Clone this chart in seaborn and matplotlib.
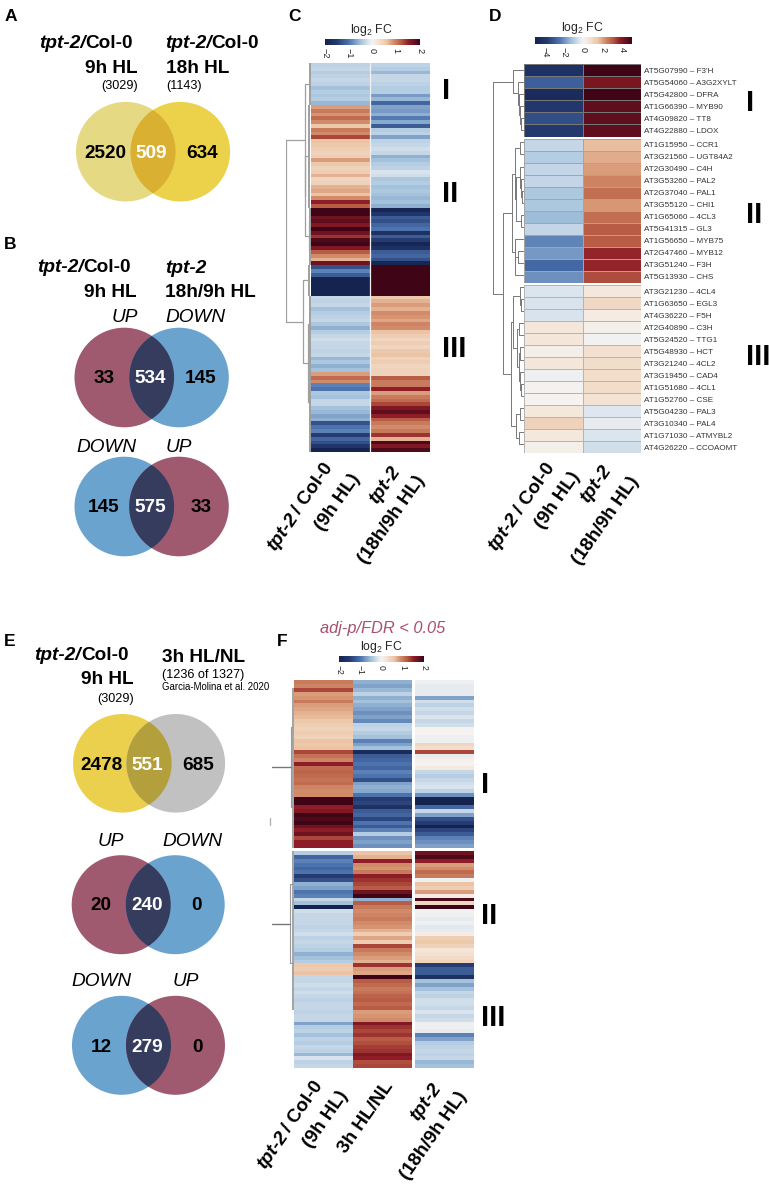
import matplotlib
matplotlib.use("Agg")
import matplotlib.pyplot as plt
import numpy as np
import pandas as pd
import seaborn as sns
from matplotlib.colors import LinearSegmentedColormap
from matplotlib.patches import Circle

# ---------------- data ----------------
venn_a = [2520, 509, 634]
venn_b1 = [33, 534, 145]
venn_b2 = [145, 575, 33]
venn_e1 = [2478, 551, 685]
venn_e2 = [20, 240, 0]
venn_e3 = [12, 279, 0]

c_9h = [-0.35,-0.3,-0.4,-0.35,-0.3,-0.35,-0.5,-0.4,-0.45,-0.4,-0.55,
        0.8,1.0,0.85,1.1,0.9,0.55,1.0,0.9,1.3,
        0.6,0.55,0.5,0.45,0.5,0.8,0.55,0.45,0.5,0.7,0.4,0.45,0.7,0.75,0.6,
        0.9,1.5,1.2,
        2,2,1.7,1.8,1.6,2,1.7,1.4,1.9,2,1.6,1.2,0.9,0.7,1.7,
        -1.3,-0.9,-1.2,
        -2,-2,-2,-2,-2,
        -0.3,-0.35,-0.3,-0.5,-0.4,-0.35,-0.3,-0.45,-0.6,-0.4,-0.3,-0.25,-0.3,-0.3,-0.35,-0.3,-0.55,-0.45,-0.6,-0.5,
        0.8,1.1,0.9,
        -0.9,-1.0,-0.45,-0.5,-0.3,-0.3,-0.5,-0.55,-0.7,-0.6,
        -1.3,-1.0,-0.9,-1.5,-1.1,-1.3,-1.6,-2]
c_18h = [-0.35,-0.4,-0.55,-0.3,-0.3,-0.35,-0.4,-0.4,-0.75,-0.55,-1.1,
         -0.7,-0.75,-0.6,-0.95,-0.65,-1.2,-0.4,-0.35,-0.7,
         -0.35,-0.3,-0.25,-0.3,-0.6,-0.5,-0.4,-0.35,-0.2,-0.25,-0.45,-0.4,-0.5,-0.45,-0.5,
         -0.55,-0.5,-0.6,
         -1.9,-1.6,-1.2,-1.3,-1.1,-1.0,-1.7,-1.2,-1.5,-1.9,-1.7,-1.2,-1.1,-1.3,-1.9,
         2,2,2,
         2,2,2,2,2,
         0.55,0.7,0.8,0.7,0.9,0.85,0.75,0.95,0.9,0.6,0.5,0.4,0.5,0.4,0.55,0.6,0.45,0.5,0.4,0.45,
         0.45,1.2,1.0,
         1.0,1.5,0.8,1.0,1.1,1.3,1.6,1.8,1.5,1.2,
         1.0,0.9,1.0,1.4,0.7,1.9,1.6,1.9]

d_genes_1 = ["AT5G07990 – F3'H","AT5G54060 – A3G2XYLT","AT5G42800 – DFRA","AT1G66390 – MYB90","AT4G09820 – TT8","AT4G22880 – LDOX"]
d_9h_1 = [-4.2,-2.9,-4.5,-3.9,-3.3,-3.8]
d_18h_1 = [5.0,4.1,5.0,4.5,4.5,4.5]
d_genes_2 = ["AT1G15950 – CCR1","AT3G21560 – UGT84A2","AT2G30490 – C4H","AT3G53260 – PAL2","AT2G37040 – PAL1","AT3G55120 – CHI1",
             "AT1G65060 – 4CL3","AT5G41315 – GL3","AT1G56650 – MYB75","AT2G47460 – MYB12","AT3G51240 – F3H","AT5G13930 – CHS"]
d_9h_2 = [-0.75,-1.0,-0.8,-0.8,-1.1,-1.1,-1.3,-0.8,-2.2,-1.9,-2.7,-2.0]
d_18h_2 = [1.6,1.8,2.0,2.4,2.7,2.1,2.7,3.0,3.0,3.7,3.7,3.2]
d_genes_3 = ["AT3G21230 – 4CL4","AT1G63650 – EGL3","AT4G36220 – F5H","AT2G40890 – C3H","AT5G24520 – TTG1","AT5G48930 – HCT","AT3G21240 – 4CL2",
             "AT3G19450 – CAD4","AT1G51680 – 4CL1","AT1G52760 – CSE","AT5G04230 – PAL3","AT3G10340 – PAL4","AT1G71030 – ATMYBL2","AT4G26220 – CCOAOMT"]
d_9h_3 = [-0.45,-0.5,-0.5,0.5,0.5,0.2,0.5,-0.15,-0.02,0.0,0.4,1.1,0.4,0.15]
d_18h_3 = [0.4,0.9,0.3,0.15,-0.05,0.7,0.8,0.8,0.8,0.6,-0.4,-0.25,-0.45,-0.6]

f1_9h = [1.0,0.95,1.3,0.8,0.85,1.0,0.8,0.75,0.7,0.65,0.55,0.5,0.45,0.5,0.45,0.6,0.55,0.6,1.3,1.05,0.95,1.5,1.1,1.15,1.1,1.05,1.1,0.95,0.9,0.9,2,2,1.5,1.6,2,1.9,2,1.7,1.5,1.7,1.3,1.5,1.5]
f1_3h = [-0.6,-0.7,-0.55,-0.35,-0.6,-0.5,-0.6,-0.7,-0.8,-0.7,-0.85,-0.35,-0.3,-0.4,-0.5,-0.9,-0.7,-0.5,-1.8,-1.2,-1.1,-1.0,-1.1,-0.9,-1.0,-1.3,-0.7,-0.6,-0.65,-1.0,-1.5,-1.4,-1.7,-1.2,-1.1,-1.4,-1.0,-1.2,-0.9,-0.4,-0.8,-0.7,-0.8]
f1_18h = [-0.05,-0.1,-0.1,-0.1,-0.7,-0.25,-0.35,-0.25,-0.3,-0.2,-0.3,-0.25,0.0,0.0,-0.05,-0.05,0.4,0.3,1.3,-0.1,0.05,0.0,0.15,-0.3,-0.4,-0.3,-0.25,-0.2,-0.35,-0.8,-2,-2,-1.1,-0.3,-0.7,-1.3,-1.5,-2,-1.4,-1.2,-0.9,-0.8,-0.7]

f2_9h = [-0.4,-1.1,-0.9,-1.0,-1.1,-1.0,-1.5,-1.3,-0.6,-0.7,-1.0,-0.9,-0.3,-0.5,-2,
         -0.25,-0.3,-0.3,-0.3,-0.35,-0.3,-0.25,-0.35,-0.3,-0.35,-0.4,-0.6,-0.5,-0.4,
         0.55,0.5,0.6,-0.3,-0.3,-0.25,-0.3,-0.25,-0.3,-0.35,-0.3,-0.3,-0.35,-0.3,-0.3,
         -0.7,-0.4,-0.35,-0.5,-0.35,-0.4,-0.3,-0.35,-0.55,-0.2,-0.35,-0.3]
f2_3h = [0.6,0.7,1.5,0.9,0.85,1.0,1.5,1.4,1.3,1.2,1.7,2,-0.6,1.2,1.0,
         0.9,0.95,1.0,0.9,0.85,0.7,0.5,0.75,0.5,1.3,1.0,0.9,0.8,0.7,
         1.4,0.8,0.75,2,1.2,1.1,1.0,1.05,1.15,1.2,1.1,1.2,0.8,0.85,0.9,
         1.6,1.4,1.3,1.4,1.2,1.25,1.35,1.4,1.6,1.5,1.25,1.3]
f2_18h = [1.7,1.9,1.5,0.8,0.9,1.1,1.0,-0.05,0.6,0.5,0.8,0.1,1.9,0.4,2,
          -0.02,-0.05,-0.1,-0.05,-0.15,-0.1,0.1,0.5,0.55,0.45,0.2,0.25,0.35,0.45,
          -1.5,-1.2,-1.2,-1.7,-0.5,-0.7,-0.5,-0.3,-0.35,-0.25,-0.25,-0.3,-0.2,-0.3,-0.25,
          -0.05,-0.05,-0.1,-0.9,-0.7,-0.4,-0.35,-0.3,-0.35,-0.3,-0.55,-0.5]

# dendrogram merges: (height, child, child); a leaf is a row; ('c', first row, last row, height) is a tight cluster
d_tree = (30.7,
          (10.7, 0, (5.7, 1, (4.7, 2, (4, 3, (3, 4, 5))))),
          (20.7,
           (12.2, (9, (4.5, 6, 7), (8, (4, 8, (3, 9, (2.5, 10, 11))), (3.5, 12, 13))),
            (9.5, 14, (8.7, (6, 15, 16), 17))),
           (13, (11, (4, 18, (3, 19, 20)), (7.5, (5, 21, 22), (5.5, (4, 23, 24), (4.5, 25, (3, 26, 27))))),
            (8, (4, 28, 29), (5, 30, 31)))))
c_tree = (24.5,
          (5.5, ('c', 0, 11, 1.0),
           (5.2, ('c', 11, 38, 1.5), (2.0, ('c', 38, 45, 1.0), ('c', 45, 53, 1.0)))),
          (7.2, ('c', 53, 61, 1.2), (2.5, ('c', 61, 76, 1.0), ('c', 76, 102, 1.0))))
f_tree_1 = (3.6, ('c', 2, 22, 1.0), ('c', 22, 43, 1.0))
f_tree_2 = (4.6, ('c', 0, 17, 1.0), ('c', 17, 41, 1.0))

# ---------------- style ----------------
W, H = 769, 1185
sns.set_theme(style="white")
plt.rcParams["font.family"] = ["Liberation Sans", "DejaVu Sans"]
plt.rcParams["mathtext.default"] = "regular"
fig = plt.figure(figsize=(W / 100, H / 100), dpi=100, facecolor="white")

cmap = LinearSegmentedColormap.from_list("fc", [
    (0.00, "#14234f"), (0.12, "#23396f"), (0.25, "#4b72ae"), (0.38, "#a6c4dd"), (0.42, "#c3d5e6"), (0.46, "#dfe7ef"),
    (0.50, "#f5f3f1"), (0.56, "#f4e3d4"), (0.65, "#ecc5a6"), (0.72, "#d48f6c"), (0.80, "#b85c45"),
    (0.88, "#8e1c26"), (1.00, "#3f0517")])


def axpx(x0, y0, x1, y1, **kw):
    return fig.add_axes([x0 / W, 1 - y1 / H, (x1 - x0) / W, (y1 - y0) / H], **kw)


ov = axpx(0, 0, W, H)
ov.set_xlim(0, W)
ov.set_ylim(H, 0)
ov.axis("off")
fig.canvas.draw()
rend = fig.canvas.get_renderer()

BIG = 13.7
RED, BLUE, NAVY = "#a05a70", "#6ba3cf", "#363c5e"


def venn(counts, cl, cr, cy, r, col_l, col_r, col_mid, xs, ty):
    a = Circle((cl, cy), r, fc=col_l, ec="none")
    b = Circle((cr, cy), r, fc=col_r, ec="none")
    m = Circle((cl, cy), r, fc=col_mid, ec="none")
    ov.add_patch(a)
    ov.add_patch(b)
    ov.add_patch(m)
    m.set_clip_path(Circle((cr, cy), r, transform=ov.transData))
    for val, x, col in zip(counts, xs, ["black", "white", "black"]):
        ov.text(x, ty, str(val), ha="center", va="center", fontsize=BIG, fontweight="bold", color=col)


def mixed(x, y, parts, angle=0, align="right", size=BIG, gap=0.0):
    """parts: (text, style, weight). Written end to end along a rotated baseline."""
    t = np.deg2rad(angle)
    ux, uy = np.cos(t), -np.sin(t)
    widths = []
    for s, st, w in parts:
        tt = ov.text(0, 0, s, fontsize=size, style=st, fontweight=w)
        widths.append(tt.get_window_extent(rend).width)
        tt.remove()
    total = sum(widths) + gap * (len(parts) - 1)
    d = -total if align == "right" else 0
    for (s, st, w), wd in zip(parts, widths):
        ov.text(x + ux * d, y + uy * d, s, fontsize=size, style=st, fontweight=w, rotation=angle,
                rotation_mode="anchor", ha="left", va="center", color="black")
        d += wd + gap


def plain(x, y, s, **kw):
    ov.text(x, y, s, **{"va": "baseline", "color": "black", **kw})


def roman(x, y, s):
    ov.text(x, y, s, fontsize=21, fontweight="bold", ha="left", va="baseline", color="black")


for s, x, y in [("A", 5, 21), ("B", 4, 249), ("C", 288, 21), ("D", 489, 21), ("E", 4, 646), ("F", 277, 646)]:
    plain(x, y, s, fontsize=12.5, fontweight="bold")

# A
mixed(133, 43.5, [("tpt-2/", "italic", "bold"), ("Col-0", "normal", "bold")])
mixed(259, 43.5, [("tpt-2/", "italic", "bold"), ("Col-0", "normal", "bold")])
plain(137.7, 73, "9h HL", ha="right", fontsize=BIG, fontweight="bold")
plain(166.5, 73, "18h HL", fontsize=BIG, fontweight="bold")
plain(138, 89, "(3029)", ha="right", fontsize=9.1)
plain(166, 89, "(1143)", fontsize=9.1)
venn(venn_a, 125.8, 180.3, 151.7, 49.8, "#e6d983", "#ecd24a", "#dab032", (105, 151.7, 202), 153)

# B
mixed(131, 267.5, [("tpt-2/", "italic", "bold"), ("Col-0", "normal", "bold")])
plain(165.7, 273, "tpt-2", fontsize=BIG, fontweight="bold", style="italic")
plain(136.7, 297, "9h HL", ha="right", fontsize=BIG, fontweight="bold")
plain(165, 297, "18h/9h HL", fontsize=BIG, fontweight="bold")
plain(137.5, 322.5, "UP", ha="right", fontsize=BIG, style="italic")
plain(165, 322.5, "DOWN", fontsize=BIG, style="italic")
venn(venn_b1, 124.3, 179, 377.5, 49.8, RED, BLUE, NAVY, (104, 150.7, 201), 378.5)
plain(137, 451.5, "DOWN", ha="right", fontsize=BIG, style="italic")
plain(165.7, 451.5, "UP", fontsize=BIG, style="italic")
venn(venn_b2, 124.3, 179, 506.5, 49.8, BLUE, RED, NAVY, (104, 150.7, 201), 508)

# E
mixed(128.7, 655.5, [("tpt-2/", "italic", "bold"), ("Col-0", "normal", "bold")])
plain(134, 684.5, "9h HL", ha="right", fontsize=BIG, fontweight="bold")
plain(134.5, 702, "(3029)", ha="right", fontsize=9.1)
plain(162, 661.5, "3h HL/NL", fontsize=BIG, fontweight="bold")
plain(162, 678, "(1236 of 1327)", fontsize=9.1)
plain(162, 689.5, "Garcia-Molina et al. 2020", fontsize=6.9)
venn(venn_e1, 122.3, 175.8, 763.3, 49.3, "#ebd04e", "#c1c1c1", "#b3a03c", (101.7, 147.3, 197.7), 765)
plain(123.5, 845.5, "UP", ha="right", fontsize=BIG, style="italic")
plain(162.3, 845.5, "DOWN", fontsize=BIG, style="italic")
venn(venn_e2, 121.2, 175.2, 904.7, 49.5, RED, BLUE, NAVY, (100.7, 147.3, 197), 906)
plain(132, 986.5, "DOWN", ha="right", fontsize=BIG, style="italic")
plain(173, 986.5, "UP", fontsize=BIG, style="italic")
venn(venn_e3, 121.5, 175.5, 1045.3, 49.5, BLUE, RED, NAVY, (101, 147.3, 197.3), 1047)


# heatmaps
def hm(df, box, vmax, **kw):
    ax = axpx(*box)
    sns.heatmap(df, ax=ax, cmap=cmap, vmin=-vmax, vmax=vmax, xticklabels=False, yticklabels=False,
                cbar=kw.pop("cbar", False), **kw)
    ax.set_xlabel("")
    ax.set_ylabel("")
    return ax


def cbar_fmt(cax, size=6.6):
    cax.tick_params(length=0, labelsize=size, pad=2, labelcolor="#222222")
    for lab in cax.get_xticklabels():
        lab.set_rotation(-90)
        lab.set_ha("center")
        lab.set_va("top")


def draw_node(ax, node, color, lw):
    if not isinstance(node, tuple):
        return node + 0.5, 0.0
    if node[0] == "c":
        _, lo, hi, h = node
        ax.plot([h, h], [lo, hi], color=color, lw=lw * 1.6, solid_capstyle="butt")
        return (lo + hi) / 2, h
    h, a, b = node
    ya, ha_ = draw_node(ax, a, color, lw)
    yb, hb = draw_node(ax, b, color, lw)
    ax.plot([ha_, h, h, hb], [ya, ya, yb, yb], color=color, lw=lw, solid_capstyle="butt")
    return (ya + yb) / 2, h


def dendro(tree, box, nrows, color="#777777", lw=0.7, stem=None):
    ax = axpx(*box)
    ax.patch.set_alpha(0)
    ax.axis("off")
    ax.set_xlim(box[2] - box[0], 0)
    ax.set_ylim(nrows, 0)
    y, h = draw_node(ax, tree, color, lw)
    if stem is not None:
        ax.plot([h, stem], [y, y], color="#777777", lw=1.0)
    return ax


# C
cax = axpx(325, 39, 420, 45)
df_c = pd.DataFrame({"9h": c_9h, "18h": c_18h})
ax_c = hm(df_c, (310.5, 63, 430, 452), 2, cbar=True, cbar_ax=cax,
          cbar_kws={"orientation": "horizontal", "ticks": [-2, -1, 0, 1, 2]})
ax_c.axvline(1, color="#f0f0f0", lw=0.9)
cbar_fmt(cax)
dendro(c_tree, (286, 63, 310.5, 452), len(c_9h), color="#a0a0a0", lw=0.9)
ov.text(371, 29.5, "log$_2$ FC", ha="center", va="center", fontsize=8.8)
roman(442, 99, "I")
roman(442, 202, "II")
roman(442, 357, "III")

# D
d_blocks = [(d_genes_1, d_9h_1, d_18h_1, 64, 136.5, "#777777"),
            (d_genes_2, d_9h_2, d_18h_2, 138.5, 283, "#a5a5a5"),
            (d_genes_3, d_9h_3, d_18h_3, 285, 453, "#b5b5b5")]
for i, (genes, a, b, y0, y1, grid) in enumerate(d_blocks):
    df = pd.DataFrame({"9h": a, "18h": b}, index=genes)
    if i == 0:
        cax = axpx(535, 37, 632, 44)
        ax_d = hm(df, (524, y0, 641, y1), 5, cbar=True, cbar_ax=cax, linewidths=0.6, linecolor=grid,
                  cbar_kws={"orientation": "horizontal", "ticks": [-4, -2, 0, 2, 4]})
        cbar_fmt(cax)
    else:
        ax_d = hm(df, (524, y0, 641, y1), 5, linewidths=0.6, linecolor=grid)
    ax_d.set_yticks(np.arange(len(genes)) + 0.5)
    ax_d.set_yticklabels(genes, rotation=0, fontsize=5.85, color="#333333")
    ax_d.tick_params(axis="y", length=0, pad=2)
    ax_d.yaxis.tick_right()
dendro(d_tree, (493, 64, 524, 453), 32.25, color="#777777", lw=0.7)
ov.text(582.7, 28.5, "log$_2$ FC", ha="center", va="center", fontsize=8.8)
roman(746, 111, "I")
roman(746, 223, "II")
roman(746, 365, "III")

# F
cax = axpx(339, 656, 424, 662)
df_f1a = pd.DataFrame({"9h": f1_9h, "3h": f1_3h})
df_f1b = pd.DataFrame({"18h": f1_18h})
df_f2a = pd.DataFrame({"9h": f2_9h, "3h": f2_3h})
df_f2b = pd.DataFrame({"18h": f2_18h})
hm(df_f1a, (294.3, 680, 412, 848), 2, cbar=True, cbar_ax=cax,
   cbar_kws={"orientation": "horizontal", "ticks": [-2, -1, 0, 1, 2]})
cbar_fmt(cax, 6.2)
hm(df_f1b, (414.7, 680, 473.7, 848), 2)
hm(df_f2a, (294.3, 851, 412, 1068), 2)
hm(df_f2b, (414.7, 851, 473.7, 1068), 2)
dendro(f_tree_1, (272.3, 680, 294.3, 848), len(f1_9h), color="#9a9a9a", lw=0.8, stem=22)
dendro(f_tree_2, (272.3, 851, 294.3, 1068), len(f2_9h), color="#9a9a9a", lw=0.8, stem=22)
ov.plot([269.7, 269.7], [818, 825], color="#b5b5b5", lw=1)
ov.text(383, 628, "adj-p/FDR < 0.05", ha="center", va="center", fontsize=11.8, style="italic", color="#a8506f")
ov.text(381, 647, "log$_2$ FC", ha="center", va="center", fontsize=8.8)
roman(481, 793, "I")
roman(481, 924, "II")
roman(481, 1026, "III")

# rotated column labels
ANG = 55
T1 = [("tpt-2", "italic", "bold"), ("/ Col-0", "normal", "bold")]
T2 = [("tpt-2", "italic", "bold")]
L9 = [("(9h HL)", "normal", "bold")]
L18 = [("(18h/9h HL)", "normal", "bold")]
for x, y, parts in [(330, 465, T1), (356.7, 475, L9), (396.7, 468, T2), (421.7, 477, L18),
                    (551.7, 465, T1), (576.7, 473, L9), (608, 467, T2), (635, 478, L18),
                    (320, 1083, T1), (345, 1092, L9), (390, 1083, [("3h HL/NL", "normal", "bold")]),
                    (438, 1085, T2), (463, 1093, L18)]:
    mixed(x, y, parts, angle=ANG, gap=3.5)

fig.savefig("out.png", dpi=100, facecolor="white")
